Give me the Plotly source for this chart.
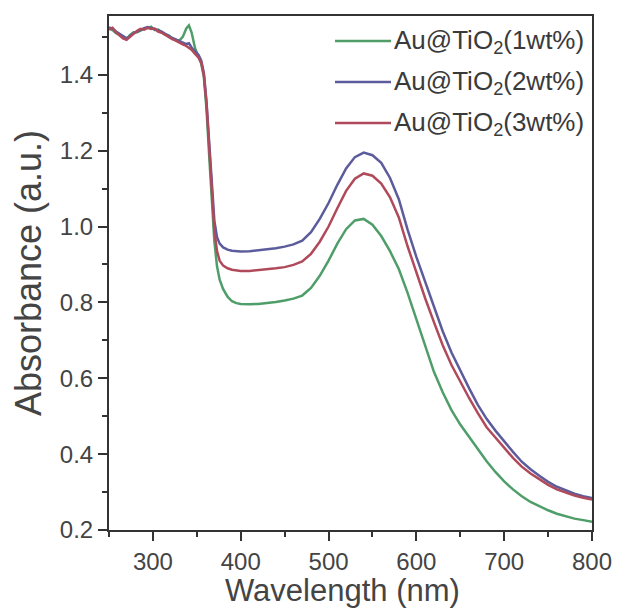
import plotly.graph_objects as go

wavelength = [250, 254, 258, 262, 266, 270, 274, 278, 282, 286, 290, 294, 298, 302, 306,
              310, 314, 318, 322, 326, 330, 334, 338, 341, 344, 348, 352, 355, 358, 361,
              364, 367, 370, 373, 376, 380, 385, 390, 395, 400,
              410, 420, 430, 440, 450, 460, 470, 480, 490, 500,
              510, 520, 530, 540, 550, 560, 570, 580, 590, 600,
              610, 620, 630, 640, 650, 660, 670, 680, 690, 700,
              710, 720, 730, 740, 750, 760, 770, 780, 790, 800]

abs_1wt = [1.522, 1.518, 1.510, 1.506, 1.498, 1.494, 1.505, 1.512, 1.512, 1.517, 1.521, 1.523,
           1.527, 1.518, 1.519, 1.512, 1.506, 1.504, 1.496, 1.492, 1.490, 1.500, 1.522, 1.530,
           1.512, 1.470, 1.445, 1.430, 1.395, 1.310, 1.190, 1.060, 0.960, 0.895, 0.860, 0.835,
           0.815, 0.803, 0.798, 0.796,
           0.795, 0.796, 0.798, 0.801, 0.805, 0.810, 0.818, 0.838, 0.870, 0.910,
           0.955, 0.993, 1.016, 1.020, 1.005, 0.975, 0.935, 0.888, 0.825, 0.755,
           0.682, 0.617, 0.563, 0.516, 0.478, 0.445, 0.413, 0.381, 0.353, 0.328,
           0.307, 0.289, 0.274, 0.262, 0.252, 0.243, 0.236, 0.230, 0.226, 0.222]

abs_2wt = [1.525, 1.522, 1.514, 1.508, 1.500, 1.496, 1.502, 1.510, 1.514, 1.519, 1.523, 1.526,
           1.524, 1.520, 1.517, 1.514, 1.508, 1.502, 1.497, 1.493, 1.489, 1.485, 1.481, 1.483,
           1.472, 1.462, 1.452, 1.438, 1.405, 1.330, 1.220, 1.100, 1.015, 0.972, 0.955, 0.945,
           0.939, 0.936, 0.935, 0.934,
           0.935, 0.937, 0.940, 0.943, 0.947, 0.953, 0.963, 0.985, 1.020, 1.062,
           1.110, 1.153, 1.183, 1.195, 1.188, 1.168, 1.128, 1.072, 0.992, 0.920,
           0.855, 0.790, 0.724, 0.668, 0.620, 0.574, 0.530, 0.493, 0.462, 0.433,
           0.406, 0.380, 0.360, 0.343, 0.327, 0.314, 0.304, 0.296, 0.289, 0.284]

abs_3wt = [1.520, 1.524, 1.512, 1.504, 1.496, 1.492, 1.500, 1.508, 1.516, 1.521, 1.519, 1.524,
           1.521, 1.522, 1.514, 1.511, 1.505, 1.500, 1.494, 1.490, 1.484, 1.480, 1.476, 1.470,
           1.466, 1.455, 1.445, 1.432, 1.400, 1.325, 1.215, 1.090, 0.990, 0.935, 0.910, 0.897,
           0.890, 0.886, 0.884, 0.883,
           0.883, 0.885, 0.887, 0.890, 0.893, 0.899, 0.908, 0.928, 0.960, 1.000,
           1.048, 1.094, 1.126, 1.140, 1.134, 1.113, 1.077, 1.024, 0.948, 0.877,
           0.811, 0.748, 0.687, 0.635, 0.590, 0.548, 0.508, 0.471, 0.444, 0.418,
           0.390, 0.367, 0.349, 0.334, 0.319, 0.307, 0.298, 0.291, 0.285, 0.280]

series_names = ["Au@TiO<sub>2</sub>(1wt%)", "Au@TiO<sub>2</sub>(2wt%)", "Au@TiO<sub>2</sub>(3wt%)"]
series_values = [abs_1wt, abs_2wt, abs_3wt]
series_colors = ["#4f9e6a", "#5c5c9c", "#b04a5a"]

x_ticks = [300, 400, 500, 600, 700, 800]
y_ticks = [0.2, 0.4, 0.6, 0.8, 1.0, 1.2, 1.4]

FONT = "Liberation Sans, Arial"
TXT = "#444444"

fig = go.Figure()
for name, vals, col in zip(series_names, series_values, series_colors):
    fig.add_trace(go.Scatter(x=wavelength, y=vals, mode="lines", name=name,
                             line=dict(color=col, width=2.5), showlegend=False))

# The page body has an 8px default margin, so the figure is laid out in
# screen coordinates shifted by OFF.
OFF = 8
W, H = 620 - OFF, 609 - OFF
L, R, T, B = 109 - OFF, 28, 16 - OFF, 79
pw, ph = W - L - R, H - T - B
def px(xs):
    return (xs - OFF - L) / pw
def py(ys):
    return (H - B - (ys - OFF)) / ph

# manual legend (long line samples as in the original)
rows = [41, 82, 123]
for name, col, yr in zip(series_names, series_colors, rows):
    fig.add_shape(type="line", xref="paper", yref="paper",
                  x0=px(335), x1=px(391), y0=py(yr), y1=py(yr),
                  line=dict(color=col, width=2.5))
    fig.add_annotation(xref="paper", yref="paper", x=px(392), y=py(yr),
                       xanchor="left", yanchor="middle", text=name, showarrow=False,
                       font=dict(family=FONT, size=26, color="#3a3a3a"))

# x-axis title placed at the very bottom of the figure
fig.add_annotation(xref="paper", yref="paper", x=px(342), y=py(609), xanchor="center",
                   yanchor="bottom", text="Wavelength (nm)", showarrow=False,
                   font=dict(family=FONT, size=31, color=TXT), borderpad=0)

axis_common = dict(showgrid=False, zeroline=False, showline=True, linecolor="#333333",
                   linewidth=2, mirror=True, ticks="outside", ticklen=9, tickwidth=2,
                   tickcolor="#333333", automargin=False,
                   tickfont=dict(family=FONT, size=24, color=TXT))

fig.update_xaxes(range=[250, 800], tickvals=x_ticks, ticktext=[str(v) for v in x_ticks],
                 minor=dict(dtick=50, tick0=250, ticks="outside", ticklen=5, tickwidth=2,
                            tickcolor="#333333"),
                 **axis_common)
fig.update_yaxes(range=[0.2, 1.555], tickvals=y_ticks, ticktext=[f"{v:.1f}" for v in y_ticks],
                 minor=dict(dtick=0.1, tick0=0.2, ticks="outside", ticklen=5, tickwidth=2,
                            tickcolor="#333333"),
                 title=dict(text="Absorbance (a.u.)", standoff=8,
                            font=dict(family=FONT, size=36, color=TXT)),
                 **axis_common)

fig.update_layout(width=W, height=H, margin=dict(l=L, r=R, t=T, b=B, autoexpand=False),
                  plot_bgcolor="white", paper_bgcolor="white")

fig.write_html("out.html")
